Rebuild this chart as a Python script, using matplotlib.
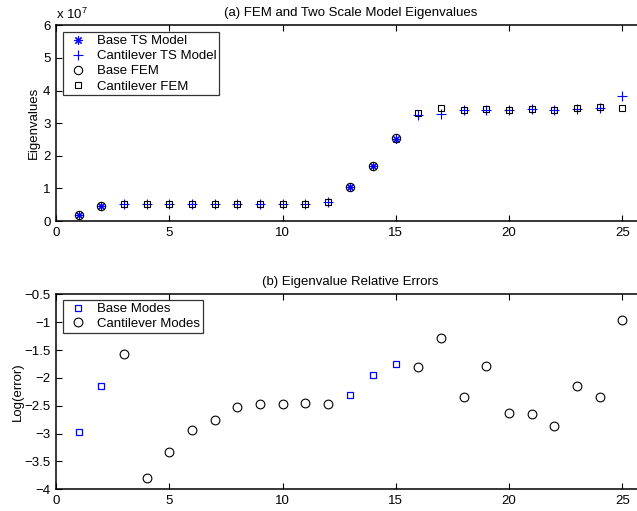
import matplotlib
matplotlib.use("Agg")
import matplotlib.pyplot as plt
from matplotlib.ticker import FuncFormatter, MultipleLocator

plt.rcParams['font.family'] = ['Liberation Sans', 'DejaVu Sans']
plt.rcParams['mathtext.fontset'] = 'custom'
plt.rcParams['mathtext.rm'] = 'Liberation Sans'
plt.rcParams['mathtext.it'] = 'Liberation Sans'
FS = 9.5

# ---- data ----
base_modes = [1, 2, 13, 14, 15]
cant_modes = [3, 4, 5, 6, 7, 8, 9, 10, 11, 12, 16, 17, 18, 19, 20, 21, 22, 23, 24, 25]

base_ts = [0.18e7, 0.47e7, 1.03e7, 1.70e7, 2.52e7]
base_fem = [0.18e7, 0.47e7, 1.03e7, 1.70e7, 2.53e7]
cant_ts = [0.53e7, 0.53e7, 0.53e7, 0.53e7, 0.53e7, 0.53e7, 0.53e7, 0.53e7, 0.53e7, 0.58e7,
           3.25e7, 3.29e7, 3.40e7, 3.41e7, 3.41e7, 3.42e7, 3.41e7, 3.42e7, 3.47e7, 3.83e7]
cant_fem = [0.53e7, 0.53e7, 0.53e7, 0.53e7, 0.53e7, 0.53e7, 0.53e7, 0.53e7, 0.53e7, 0.58e7,
            3.30e7, 3.46e7, 3.40e7, 3.44e7, 3.41e7, 3.42e7, 3.41e7, 3.45e7, 3.48e7, 3.45e7]

base_err = [-2.97, -2.15, -2.31, -1.95, -1.745]
cant_err = [-1.565, -3.80, -3.33, -2.94, -2.76, -2.53, -2.47, -2.46, -2.45, -2.46,
            -1.805, -1.29, -2.34, -1.79, -2.625, -2.64, -2.86, -2.14, -2.35, -0.97]

W, H = 637, 511
fig = plt.figure(figsize=(W / 100, H / 100), dpi=100)

def style(ax):
    ax.tick_params(direction='in', length=4.5, width=0.8, labelsize=FS,
                   top=True, right=True, pad=4)
    for s in ax.spines.values():
        s.set_linewidth(1.1)

# ---- top ----
ax1 = fig.add_axes([56 / W, (H - 221) / H, (645 - 56) / W, (221 - 25.3) / H])
ax1.plot(base_modes, base_ts, linestyle='none', marker=(8, 2, 0), color='blue',
         markersize=6, markeredgewidth=0.8, label='Base TS Model')
ax1.plot(cant_modes, cant_ts, linestyle='none', marker='+', color='blue',
         markersize=7, markeredgewidth=0.8, label='Cantilever TS Model')
ax1.plot(base_modes, base_fem, linestyle='none', marker='o', markerfacecolor='none',
         markeredgecolor='black', markersize=6, markeredgewidth=0.8, label='Base FEM')
ax1.plot(cant_modes, cant_fem, linestyle='none', marker='s', markerfacecolor='none',
         markeredgecolor='black', markersize=5, markeredgewidth=0.8, label='Cantilever FEM')
ax1.set_xlim(0, 26)
ax1.set_ylim(0, 6e7)
ax1.xaxis.set_major_locator(MultipleLocator(5))
ax1.yaxis.set_major_locator(MultipleLocator(1e7))
ax1.yaxis.set_major_formatter(FuncFormatter(lambda v, p: '%g' % (v / 1e7)))
style(ax1)
ax1.set_title('(a) FEM and Two Scale Model Eigenvalues', fontsize=FS, pad=7)
ax1.set_ylabel('Eigenvalues', fontsize=FS, labelpad=2)
fig.text(56 / W, 1 - 14 / H, r'x 10$^7$', fontsize=FS, ha='left', va='center')
leg1 = ax1.legend(loc='upper left', bbox_to_anchor=(63 / W, 1 - 32 / H),
                  bbox_transform=fig.transFigure, fontsize=FS, frameon=True,
                  fancybox=False, edgecolor='black', borderpad=0.22, labelspacing=0.22,
                  handlelength=1.8, handletextpad=0.55, borderaxespad=0, numpoints=1)
leg1.get_frame().set_linewidth(0.9)

# ---- bottom ----
ax2 = fig.add_axes([56 / W, (H - 489.3) / H, (645 - 56) / W, (489.3 - 294.3) / H])
ax2.plot(base_modes, base_err, linestyle='none', marker='s', markerfacecolor='none',
         markeredgecolor='blue', markersize=5, markeredgewidth=0.9, label='Base Modes')
ax2.plot(cant_modes, cant_err, linestyle='none', marker='o', markerfacecolor='none',
         markeredgecolor='black', markersize=6.3, markeredgewidth=0.8, label='Cantilever Modes')
ax2.set_xlim(0, 26)
ax2.set_ylim(-4, -0.5)
ax2.xaxis.set_major_locator(MultipleLocator(5))
ax2.yaxis.set_major_locator(MultipleLocator(0.5))
ax2.yaxis.set_major_formatter(FuncFormatter(lambda v, p: ('%g' % v).replace('-', '\u2212')))
style(ax2)
ax2.set_title('(b) Eigenvalue Relative Errors', fontsize=FS, pad=7)
ax2.set_ylabel('Log(error)', fontsize=FS, labelpad=0.5)
leg2 = ax2.legend(loc='upper left', bbox_to_anchor=(63 / W, 1 - 300 / H),
                  bbox_transform=fig.transFigure, fontsize=FS, frameon=True,
                  fancybox=False, edgecolor='black', borderpad=0.22, labelspacing=0.2,
                  handlelength=1.8, handletextpad=0.55, borderaxespad=0, numpoints=1)
leg2.get_frame().set_linewidth(0.9)

fig.savefig('out.png', dpi=100)
